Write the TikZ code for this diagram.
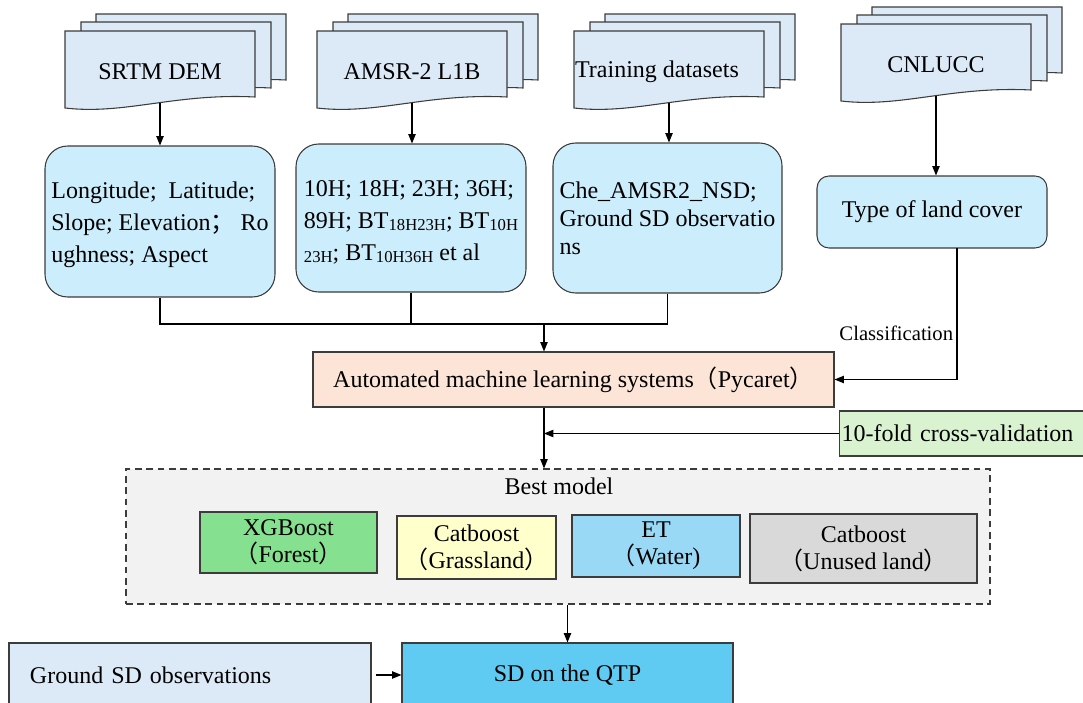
\documentclass[tikz,border=0pt]{standalone}
\usepackage{fontspec}
\setmainfont{Liberation Serif}
\newfontfamily\cjk{Noto Sans CJK SC}
\usetikzlibrary{arrows.meta}

\definecolor{linegray}{RGB}{60,60,60}
\definecolor{sheetblue}{RGB}{220,233,246}
\definecolor{featblue}{RGB}{204,237,251}
\definecolor{peach}{RGB}{252,228,214}
\definecolor{cvgreen}{RGB}{217,242,208}
\definecolor{bestgray}{RGB}{242,242,242}
\definecolor{xgbgreen}{RGB}{133,224,143}
\definecolor{grassyellow}{RGB}{255,255,204}
\definecolor{waterblue}{RGB}{153,217,245}
\definecolor{unusedgray}{RGB}{217,217,217}
\definecolor{groundblue}{RGB}{220,234,247}
\definecolor{qtpblue}{RGB}{96,203,242}

\tikzset{
  sheetline/.style={draw=linegray, fill=sheetblue, line width=0.8pt},
  rbox/.style={draw=linegray, fill=featblue, rounded corners=17pt, align=left, line width=0.8pt},
  plainbox/.style={draw=linegray, line width=0.8pt, inner sep=0pt},
}

% one page of a stack, top left corner at (#1,#2)
\newcommand{\sheet}[2]{%
  \draw[sheetline] (#1,#2) -- (#1+190,#2) -- (#1+190,#2+66)
    .. controls (#1+110,#2+62) and (#1+60,#2+84) .. (#1,#2+77) -- cycle;}
% stack of three pages: name, x, y, text shift, text
\newcommand{\docstack}[5]{%
  \sheet{#2+31}{#3-17}\sheet{#2+16}{#3-9}\sheet{#2}{#3}
  \node (#1) at (#2+95+#4,#3+41) {#5};
  \coordinate (#1-b) at (#2+95,#3+72);}
\newcommand{\lowtxt}[1]{\raisebox{-1.5pt}{\fontsize{12.5}{12.5}\selectfont #1}}

\begin{document}
\begin{tikzpicture}[x=0.75pt,y=-0.75pt,line width=0.8pt,
    >={Triangle[length=7pt,width=5.5pt]},
    font=\fontsize{18}{22}\selectfont]
  \useasboundingbox (0,0) rectangle (1083,703);
  % input data
  \docstack{srtm}{65}{31}{0}{SRTM DEM}
  \docstack{amsr}{317}{31}{0}{AMSR-2 L1B}
  \docstack{train}{574}{31}{-12}{Training datasets}
  \docstack{cnl}{841}{24}{0}{CNLUCC}
  % features
  \node[rbox, minimum width=172.5pt, minimum height=113.25pt,
    font=\fontsize{18}{24}\selectfont] (feat) at (160,221.5)
    {\\[-6pt]Longitude;~ Latitude;\\Slope; Elevation{\cjk ；}~Ro\\ughness; Aspect};
  \node[rbox, minimum width=172.5pt, minimum height=111pt,
    font=\fontsize{18}{24}\selectfont] (bt) at (411,218)
    {\\[-6pt]10H; 18H; 23H; 36H;\\89H; BT\lowtxt{18H23H}; BT\lowtxt{10H}\\\lowtxt{23H}; BT\lowtxt{10H36H} et al};
  \node[rbox, minimum width=171.75pt, minimum height=112.5pt,
    font=\fontsize{18}{21}\selectfont] (che) at (667.5,218)
    {Che\_AMSR2\_NSD;\\Ground SD observatio\\ns};
  \node[rbox, rounded corners=9pt, align=center, minimum width=172.5pt,
    minimum height=54pt] (land) at (932,212) {Type of land cover};
  % learning
  \node[plainbox, fill=peach, minimum width=390.75pt, minimum height=41.25pt]
    (auto) at (573.5,379.5) {Automated machine learning systems{\cjk （}Pycaret{\cjk ）}};
  \node[plainbox, fill=cvgreen, anchor=west, minimum height=33.75pt, text width=185pt,
    inner xsep=1.5pt, align=left] (cv) at (839,433.5) {10-fold cross-validation};
  \node[font=\fontsize{15.5}{18}\selectfont, anchor=east, inner sep=1pt]
    (clslbl) at (955,333) {Classification};
  % best models
  \node[plainbox, dash pattern=on 5pt off 3.5pt, fill=bestgray, minimum width=648pt,
    minimum height=101.25pt] (best) at (558,536.5) {};
  \node (bestlbl) at (559,486) {Best model};
  \begin{scope}[every node/.append style={plainbox, align=center,
      font=\fontsize{18}{20}\selectfont}]
    \node[fill=xgbgreen, minimum width=132.75pt, minimum height=45.75pt]
      (xgb) at (288.5,542.5) {XGBoost\\{\cjk （}Forest{\cjk ）}};
    \node[fill=grassyellow, minimum width=119.25pt, minimum height=47.25pt]
      (grass) at (476.5,547.5) {Catboost\\{\cjk （}Grassland{\cjk ）}};
    \node[fill=waterblue, minimum width=126pt, minimum height=46.5pt]
      (water) at (656,546) {ET\\{\cjk （}Water)};
    \node[fill=unusedgray, minimum width=170.25pt, minimum height=51.75pt]
      (unused) at (863.5,548.5) {Catboost\\{\cjk （}Unused land{\cjk ）}};
  \end{scope}
  % output
  \node[plainbox, fill=groundblue, minimum height=48pt, text width=240pt,
    inner xsep=15.75pt, align=left] (ground) at (190,675) {Ground SD observations};
  \node[plainbox, fill=qtpblue, minimum width=248.25pt, minimum height=48pt]
    (qtp) at (567.5,675) {SD on the QTP};
  % connectors
  \draw[->] (srtm-b) -- (srtm-b |- feat.north);
  \draw[->] (amsr-b) -- (amsr-b |- bt.north);
  \draw[->] (train-b) -- (train-b |- che.north);
  \draw[->] (cnl-b) -- (cnl-b |- land.north);
  \coordinate (join) at (544,324);
  \draw (feat.south) |- (join);
  \draw (bt.south) |- (join);
  \draw (che.south) |- (join);
  \draw[->] (join) -- (join |- auto.north);
  \coordinate (landout) at (957,248);
  \draw[->] (landout) |- (auto.east);
  \draw[->] (auto.south -| join) -- (best.north -| join);
  \draw[->] (cv.west) -- (cv.west -| join);
  \draw[->] (best.south -| qtp.north) -- (qtp.north);
  \draw[->, shorten <=3pt] (ground) -- (qtp);
\end{tikzpicture}
\end{document}
